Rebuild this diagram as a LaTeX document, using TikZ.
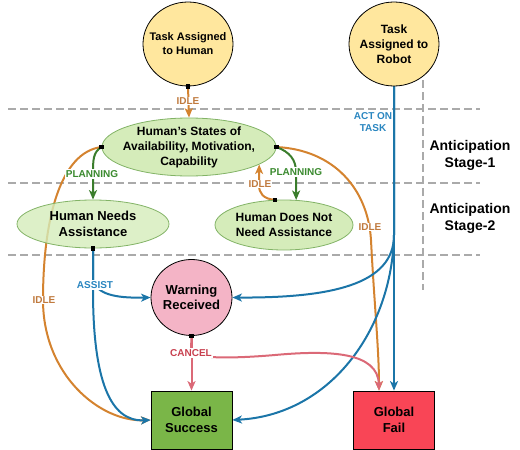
\documentclass[tikz,border=0pt]{standalone}
\usepackage{fontspec}
\setmainfont{Liberation Sans}
\usetikzlibrary{arrows.meta,shapes.geometric}
\definecolor{cOr}{HTML}{D4832F}
\definecolor{cOrT}{HTML}{C07A3E}
\definecolor{cBl}{HTML}{1B75A8}
\definecolor{cBlT}{HTML}{2A86C0}
\definecolor{cGr}{HTML}{3A7D2C}
\definecolor{cGrT}{HTML}{3A8A2E}
\definecolor{cRd}{HTML}{DB6977}
\definecolor{cRdT}{HTML}{C8404F}
\definecolor{fYel}{HTML}{FFE79E}
\definecolor{fGrn}{HTML}{D5ECBA}
\definecolor{bGrn}{HTML}{82B366}
\definecolor{fPnk}{HTML}{F4B4C6}
\definecolor{fSuc}{HTML}{7AB648}
\definecolor{fFail}{HTML}{F94556}
\definecolor{cDash}{HTML}{AAAAAA}
\pgfdeclarelayer{background}
\pgfsetlayers{background,main}
\begin{document}
\begin{tikzpicture}[x=1pt,y=-1pt,
  ell/.style={ellipse, line width=0.8pt, inner sep=0pt},
  circ/.style={ell, draw=black, fill=fYel},
  gell/.style={ell, draw=bGrn, fill=fGrn},
  lf11/.style={font=\bfseries\fontsize{11}{14}\selectfont, align=center},
  lf12/.style={font=\bfseries\fontsize{12}{15}\selectfont, align=center},
  lf13/.style={font=\bfseries\fontsize{13}{15.5}\selectfont, align=center},
  boxn/.style={rectangle, draw=black, line width=0.8pt, minimum width=81pt, minimum height=58pt, inner sep=0pt, lf13},
  tipa/.style={-{Stealth[length=9.5pt,width=8pt,inset=2.5pt]}},
  eo/.style={draw=cOr, line width=2pt, tipa},
  eg/.style={draw=cGr, line width=2pt, tipa},
  eb/.style={draw=cBl, line width=2pt, tipa},
  er/.style={draw=cRd, line width=2pt, tipa},
  lbl/.style={fill=white, inner sep=1pt, font=\bfseries\fontsize{10}{11.5}\selectfont, align=center},
  sq/.style={fill=black, inner sep=0pt, minimum size=4.5pt},
  dashln/.style={draw=cDash, line width=1.2pt, dash pattern=on 8pt off 4pt},
  stagetxt/.style={font=\bfseries\fontsize{14}{17}\selectfont, align=center}
]
\useasboundingbox (0,0) rectangle (520,450);

% nodes
\node[circ, minimum width=90pt, minimum height=84pt,
      label={[lf11]center:Task Assigned\\to Human}] (TH) at (188,44) {};
\node[circ, minimum width=90pt, minimum height=84pt,
      label={[lf12]center:Task\\Assigned to\\Robot}] (TR) at (394,44) {};
\node[gell, minimum width=174pt, minimum height=58pt,
      label={[lf12]center:{Human's States of\\Availability, Motivation,\\Capability}}] (HS) at (189,147) {};
\node[gell, fill opacity=0.8, minimum width=152pt, minimum height=48pt,
      label={[font=\bfseries\fontsize{13}{16}\selectfont, align=center]center:Human Needs\\Assistance}] (HNA) at (93,224) {};
\node[gell, minimum width=138pt, minimum height=50pt,
      label={[lf12]center:Human Does Not\\Need Assistance}] (HDN) at (284,225) {};
\node[ell, draw=black, fill=fPnk, minimum width=81pt, minimum height=76pt,
      label={[lf13]center:Warning\\Received}] (WR) at (191.5,297.5) {};
\node[boxn, fill=fSuc] (GS) at (191.5,420) {Global\\Success};
\node[boxn, fill=fFail] (GF) at (394,420) {Global\\Fail};

\node[stagetxt] (S1) at (470,155) {Anticipation\\Stage-1};
\node[stagetxt] (S2) at (470,218) {Anticipation\\Stage-2};

% start squares
\node[sq] (q1) at (TH.south) {};
\node[sq] (q2) at (HS.west) {};
\node[sq] (q3) at (HS.east) {};
\node[sq] (q4) at (HDN.110) {};
\node[sq] (q5) at (HNA.south) {};
\node[sq] (q6) at (WR.south) {};

\begin{pgfonlayer}{background}
% dashed separators
\draw[dashln] (8,109) -- (480,109);
\draw[dashln] (8,183) -- (480,183);
\draw[dashln] (8,255) -- (480,255);
\draw[dashln] (423,80) -- (423,290);

% orange IDLE edges
\draw[eo] (TH.south) -- (HS.north);
\node[lbl, text=cOrT] (l1) at (188,101) {IDLE};
\draw[eo] (HS.west) .. controls (60,152) and (43,220) .. (43,300)
          .. controls (43,375) and (100,422) .. (GS.west);
\node[lbl, text=cOrT] (l2) at (44,300) {IDLE};
\draw[eo] (HS.east) .. controls (335,150) and (368,190) .. (371,240)
          .. controls (374,300) and (379,350) .. (GF.117);
\node[lbl, text=cOrT] (l3) at (370,227) {IDLE};
\draw[eo] (HDN.110) .. controls (263,199) and (259,193) .. (259,185) -- (HS.-14);
\node[lbl, text=cOrT] (l4) at (260,184) {IDLE};

% green PLANNING edges
\draw[eg] (HS.west) .. controls (93,152) and (93,160) .. (93,174) -- (HNA.north);
\node[lbl, text=cGrT] (l5) at (92,174) {PLANNING};
\draw[eg] (HS.east) .. controls (290,152) and (296,160) .. (296,172) -- (HDN.64);
\node[lbl, text=cGrT] (l6) at (296,172) {PLANNING};

% blue edges
\draw[eb] (TR.south) -- (GF.north);
\node[lbl, text=cBlT, fill=none] (l7) at (373,122) {ACT ON\\TASK};
\draw[eb] (TR.south) -- (394,235) .. controls (394,285) and (330,298) .. (WR.east);
\draw[eb] (TR.south) -- (394,235) .. controls (392,330) and (330,415) .. (GS.east);
\draw[eb] (HNA.south) -- (93,282) .. controls (100,296) and (120,298) .. (WR.west);
\draw[eb] (HNA.south) -- (93,290) .. controls (93,380) and (110,422) .. (GS.west);
\node[lbl, text=cBlT] (l8) at (95,285) {ASSIST};

% red CANCEL edges
\draw[er] (WR.south) -- (GS.north);
\draw[er] (WR.south) -- (191,350) .. controls (191,360) and (240,358) .. (275,355)
          .. controls (330,350) and (378,352) .. (GF.117);
\node[lbl, text=cRdT] (l9) at (191,353) {CANCEL};
\end{pgfonlayer}
\end{tikzpicture}
\end{document}
